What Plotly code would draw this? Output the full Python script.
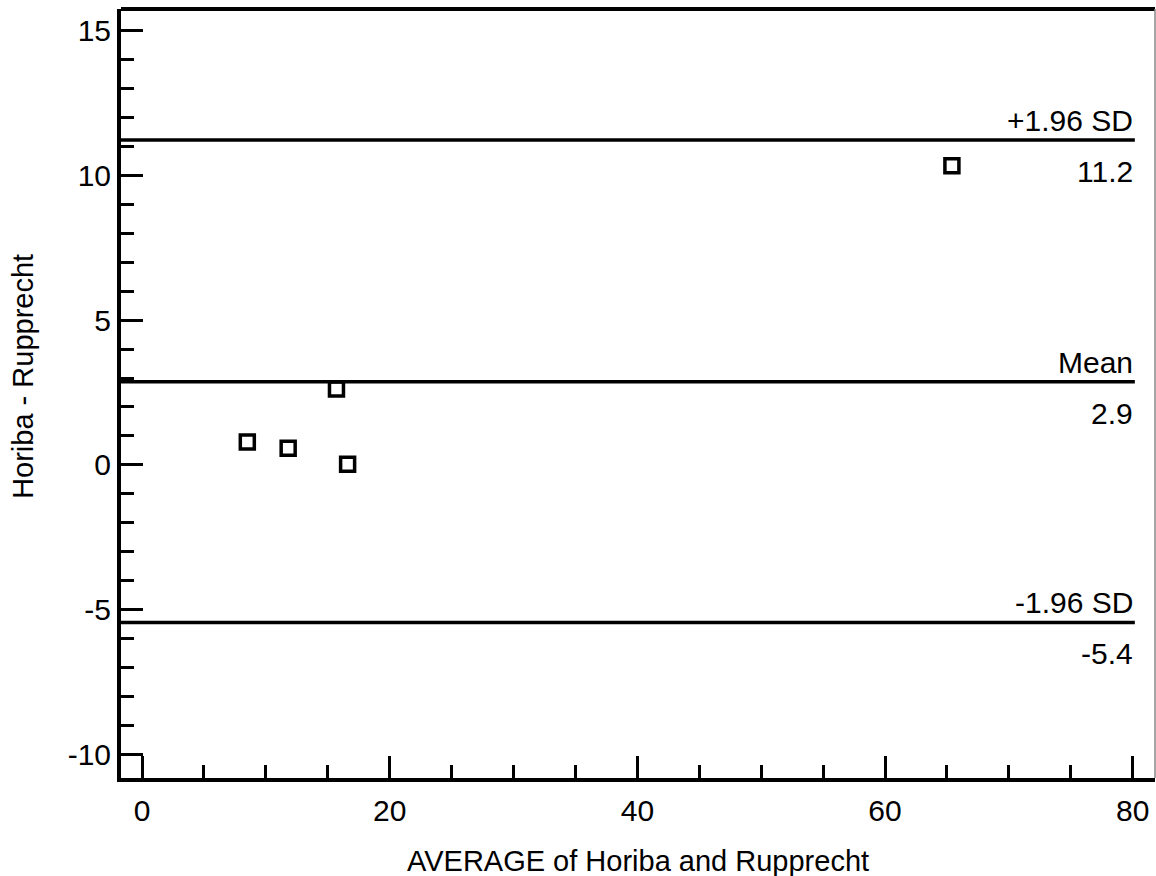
import plotly.graph_objects as go

# Data
avg_values = [8.5, 11.8, 15.7, 16.6, 65.4]
diff_values = [0.79, 0.57, 2.62, 0.02, 10.34]

line_values = [11.23, 2.87, -5.45]
line_names = ["+1.96 SD", "Mean", "-1.96 SD"]
line_labels = ["11.2", "2.9", "-5.4"]

x_ticks = [0, 20, 40, 60, 80]
y_ticks = [-10, -5, 0, 5, 10, 15]
y_tick_text = ["-10", "-5", "0", "5", "10", "15"]

FONT = "Liberation Sans, Arial, sans-serif"
FS = 30

fig = go.Figure()
fig.add_trace(go.Scatter(
    x=avg_values, y=diff_values, mode="markers",
    marker=dict(symbol="square-open", size=14, color="black",
                line=dict(color="black", width=3.5)),
    showlegend=False, hoverinfo="x+y",
))

for v, name, lab in zip(line_values, line_names, line_labels):
    fig.add_shape(type="line", xref="paper", yref="y", x0=0, x1=0.9805,
                  y0=v, y1=v, line=dict(color="black", width=3.5), layer="above")
    fig.add_annotation(xref="x", yref="y", x=80, y=v, text=name, showarrow=False,
                       xanchor="right", yanchor="bottom", yshift=1, xshift=2,
                       font=dict(family=FONT, size=FS, color="black"))
    fig.add_annotation(xref="x", yref="y", x=80, y=v, text=lab, showarrow=False,
                       xanchor="right", yanchor="top", yshift=-13, xshift=2,
                       font=dict(family=FONT, size=FS, color="black"))

# frame: top black, right thin gray
fig.add_shape(type="line", xref="paper", yref="paper", x0=0, x1=1, y0=1, y1=1,
              line=dict(color="black", width=4))
fig.add_shape(type="line", xref="paper", yref="paper", x0=1, x1=1, y0=0, y1=1,
              line=dict(color="#888888", width=1.5))

# axis titles
fig.add_annotation(xref="paper", yref="paper", x=0.5, y=0, yshift=-83,
                   text="AVERAGE of Horiba and Rupprecht", showarrow=False,
                   yanchor="middle", font=dict(family=FONT, size=FS - 1, color="black"))
fig.add_annotation(xref="paper", yref="y", x=0, xshift=-98, y=3.04,
                   text="Horiba - Rupprecht", showarrow=False, textangle=-90,
                   xanchor="center", yanchor="middle",
                   font=dict(family=FONT, size=FS - 1, color="black"))

fig.update_layout(
    width=1156, height=876,
    margin=dict(l=121, r=1, t=9, b=98),
    paper_bgcolor="white", plot_bgcolor="white",
    font=dict(family=FONT, size=FS, color="black"),
    xaxis=dict(range=[-1.7, 81.8], tickvals=x_ticks, ticks="inside", ticklen=22,
               tickwidth=3, tickcolor="black", showgrid=False, zeroline=False,
               showline=True, linecolor="black", linewidth=4,
               ticklabelstandoff=3,
               minor=dict(dtick=5, tick0=0, ticks="inside", ticklen=13,
                          tickwidth=3, tickcolor="black", showgrid=False)),
    yaxis=dict(range=[-10.83, 15.76], tickvals=y_ticks, ticktext=y_tick_text,
               ticks="inside", ticklen=22,
               tickwidth=3, tickcolor="black", showgrid=False, zeroline=False,
               showline=True, linecolor="black", linewidth=4,
               minor=dict(dtick=1, tick0=0, ticks="inside", ticklen=13,
                          tickwidth=3, tickcolor="black", showgrid=False)),
)

fig.write_html("out.html", config={"displayModeBar": False},
               post_script="document.body.style.margin='0px';document.body.style.overflow='hidden';")
